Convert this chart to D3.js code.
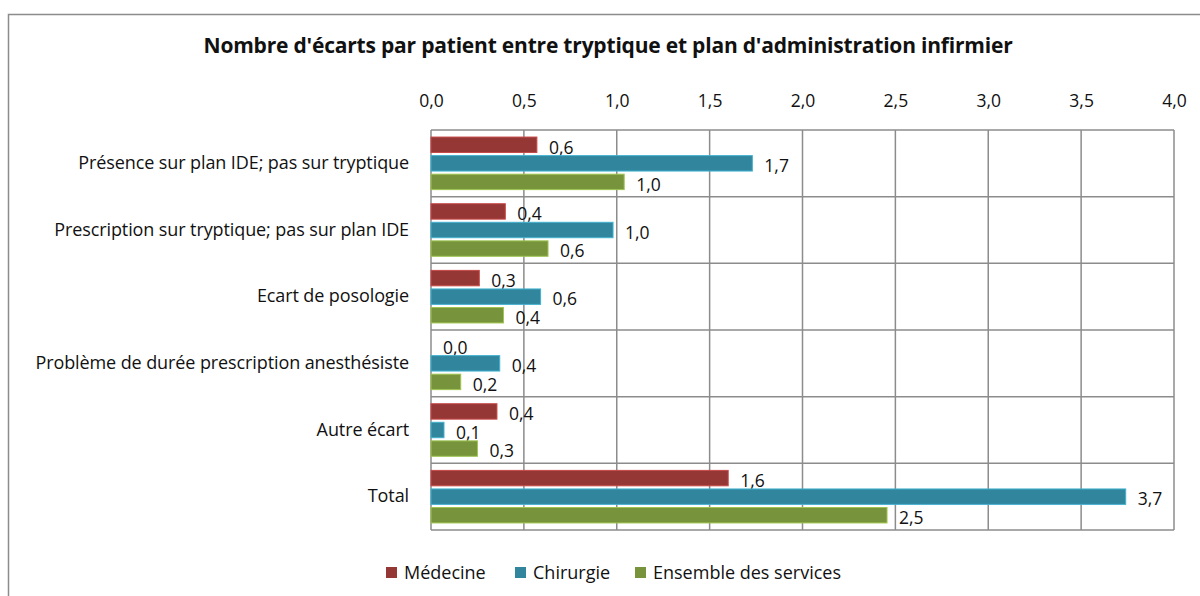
<!DOCTYPE html>
<html>
<head>
<meta charset="utf-8">
<script src="https://cdn.jsdelivr.net/npm/d3@7"></script>
<style>
  body { margin: 0; background: #fff; }
  text { font-family: "Open Sans", "Noto Sans", sans-serif; fill: #111; }
</style>
</head>
<body>
<div id="chart"></div>
<script>
// data
let categories = [
  'Présence sur plan IDE; pas sur tryptique',
  'Prescription sur tryptique; pas sur plan IDE',
  'Ecart de posologie',
  'Problème de durée prescription anesthésiste',
  'Autre écart',
  'Total'
]
let seriesNames = ['Médecine', 'Chirurgie', 'Ensemble des services']
let medecine = [0.57, 0.40, 0.26, 0.0, 0.355, 1.60]
let chirurgie = [1.73, 0.98, 0.59, 0.37, 0.07, 3.74]
let ensemble = [1.04, 0.63, 0.39, 0.16, 0.25, 2.455]
let xTicks = [0, 0.5, 1, 1.5, 2, 2.5, 3, 3.5, 4]
let colors = ['#953735', '#31859C', '#77933C']

let W = 1200
let H = 596
let margin = { top: 130, left: 431, right: 26, bottom: 66 }
let width = W - margin.left - margin.right
let height = H - margin.top - margin.bottom

let svg = d3.select('#chart')
  .append('svg')
  .attr('width', W)
  .attr('height', H)

// outer chart frame
svg.append('rect')
  .attr('x', 8.5)
  .attr('y', 14.5)
  .attr('width', W)
  .attr('height', H)
  .attr('fill', 'none')
  .attr('stroke', '#8c8c8c')
  .attr('stroke-width', 1.5)

svg.append('text')
  .text("Nombre d'écarts par patient entre tryptique et plan d'administration infirmier")
  .attr('x', 608)
  .attr('y', 53)
  .attr('text-anchor', 'middle')
  .attr('font-size', 21)
  .attr('font-weight', 'bold')
  .attr('letter-spacing', -0.2)

let g = svg.append('g')
  .attr('transform', `translate(${margin.left},${margin.top})`)

let xPositionScale = d3.scaleLinear().domain([0, 4]).range([0, width])
let yPositionScale = d3.scaleBand().domain(categories).range([0, height])
let innerScale = d3.scaleBand()
  .domain(seriesNames)
  .range([0, yPositionScale.bandwidth()])
  .paddingInner(0.17)
  .paddingOuter(0.38)

// vertical gridlines
g.selectAll('.grid-x')
  .data(xTicks)
  .enter()
  .append('line')
  .attr('class', 'grid-x')
  .attr('x1', d => xPositionScale(d))
  .attr('x2', d => xPositionScale(d))
  .attr('y1', 0)
  .attr('y2', height)
  .attr('stroke', '#8c8c8c')
  .attr('stroke-width', 1.5)

// horizontal category lines
g.selectAll('.grid-y')
  .data(categories.concat(['end']))
  .enter()
  .append('line')
  .attr('class', 'grid-y')
  .attr('x1', 0)
  .attr('x2', width)
  .attr('y1', (d, i) => i * yPositionScale.step())
  .attr('y2', (d, i) => i * yPositionScale.step())
  .attr('stroke', '#8c8c8c')
  .attr('stroke-width', 1.5)

// top axis labels
let xAxis = d3.axisTop(xPositionScale)
  .tickValues(xTicks)
  .tickSize(0)
  .tickPadding(23)
  .tickFormat(d => d3.format('.1f')(d).replace('.', ','))
g.append('g')
  .attr('class', 'axis x-axis')
  .call(xAxis)
  .call(s => s.select('.domain').remove())
  .selectAll('text')
  .attr('font-size', 17.5)

// category labels
let yAxis = d3.axisLeft(yPositionScale).tickSize(0).tickPadding(22)
g.append('g')
  .attr('class', 'axis y-axis')
  .call(yAxis)
  .call(s => s.select('.domain').remove())
  .selectAll('text')
  .attr('font-size', 18)
  .attr('letter-spacing', -0.1)

let allSeries = [medecine, chirurgie, ensemble]
let rows = []
categories.forEach((c, i) => {
  allSeries.forEach((vals, j) => {
    rows.push({ cat: c, series: seriesNames[j], value: vals[i], color: colors[j] })
  })
})

let bars = g.selectAll('.bar-row')
  .data(rows)
  .enter()
  .append('g')
  .attr('transform', d => `translate(0,${yPositionScale(d.cat) + innerScale(d.series)})`)

bars.append('rect')
  .attr('x', 0)
  .attr('y', 0)
  .attr('width', d => xPositionScale(d.value))
  .attr('height', innerScale.bandwidth())
  .attr('fill', d => d.color)
  .attr('stroke', d => d3.color(d.color).brighter(0.8))
  .attr('stroke-width', d => d.value > 0 ? 1 : 0)

bars.append('text')
  .text(d => d3.format('.1f')(d.value).replace('.', ','))
  .attr('x', d => xPositionScale(d.value) + 12)
  .attr('y', innerScale.bandwidth() / 2)
  .attr('dy', '0.5em')
  .attr('font-size', 17.5)

// legend
let legendX = [386, 515, 635]
let legend = svg.selectAll('.legend')
  .data(seriesNames)
  .enter()
  .append('g')
  .attr('class', 'legend')
  .attr('transform', (d, i) => `translate(${legendX[i]},567)`)

legend.append('rect')
  .attr('width', 11)
  .attr('height', 11)
  .attr('fill', (d, i) => colors[i])

legend.append('text')
  .text(d => d)
  .attr('x', 18)
  .attr('y', 6)
  .attr('dy', '0.36em')
  .attr('font-size', 18)
</script>
</body>
</html>
